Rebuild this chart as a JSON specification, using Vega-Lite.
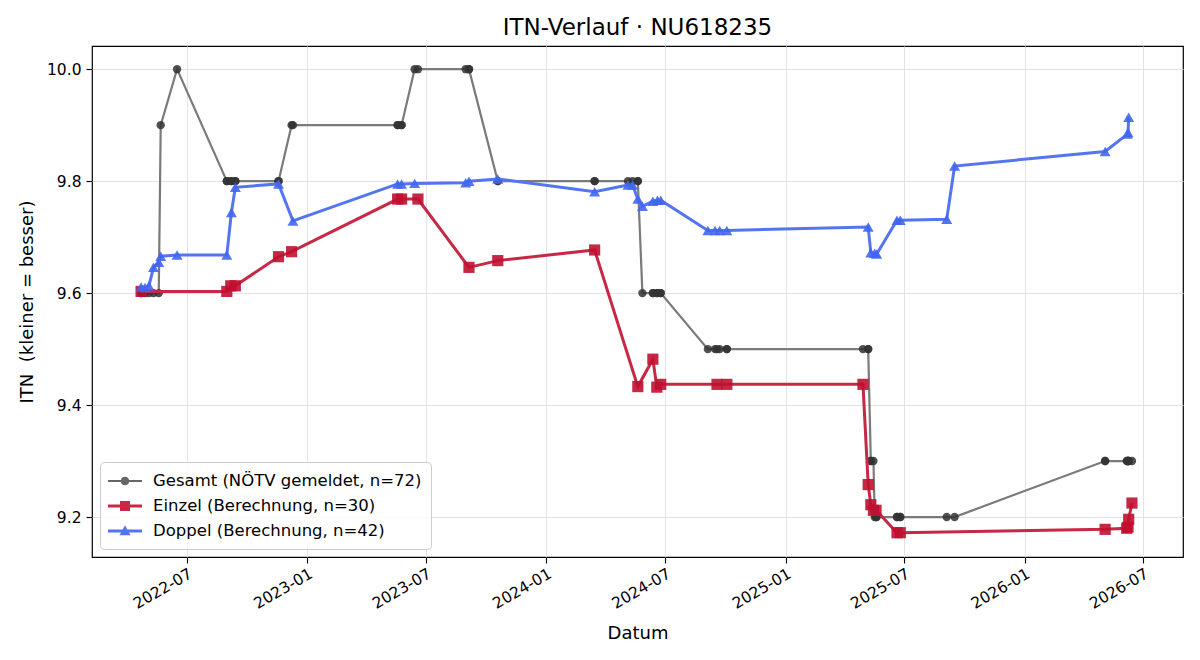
{
  "$schema": "https://vega.github.io/schema/vega-lite/v6.json",
  "width": 1091,
  "height": 511,
  "autosize": {"type": "none"},
  "padding": {"left": 92, "top": 46, "right": 17, "bottom": 103},
  "background": "white",
  "title": {"text": "ITN-Verlauf · NU618235", "font": "DejaVu Sans", "fontSize": 23, "fontWeight": "normal", "color": "black", "offset": 6},
  "config": {
    "view": {"stroke": "black", "strokeWidth": 1.2},
    "axis": {
      "labelFont": "DejaVu Sans", "labelFontSize": 15.5, "labelColor": "black",
      "titleFont": "DejaVu Sans", "titleFontSize": 18, "titleFontWeight": "normal", "titleColor": "black",
      "tickColor": "black", "tickSize": 6, "tickWidth": 1.1, "domain": false,
      "gridColor": "#e3e3e3", "gridWidth": 1
    }
  },
  "data": {
    "values": [
      {"s": "Gesamt (NÖTV gemeldet, n=72)", "t": "2022-04-22", "v": 9.6},
      {"s": "Gesamt (NÖTV gemeldet, n=72)", "t": "2022-04-22", "v": 9.6},
      {"s": "Gesamt (NÖTV gemeldet, n=72)", "t": "2022-04-28", "v": 9.6},
      {"s": "Gesamt (NÖTV gemeldet, n=72)", "t": "2022-05-04", "v": 9.6},
      {"s": "Gesamt (NÖTV gemeldet, n=72)", "t": "2022-05-11", "v": 9.6},
      {"s": "Gesamt (NÖTV gemeldet, n=72)", "t": "2022-05-19", "v": 9.6},
      {"s": "Gesamt (NÖTV gemeldet, n=72)", "t": "2022-05-22", "v": 9.9},
      {"s": "Gesamt (NÖTV gemeldet, n=72)", "t": "2022-06-16", "v": 10.0},
      {"s": "Gesamt (NÖTV gemeldet, n=72)", "t": "2022-08-31", "v": 9.8},
      {"s": "Gesamt (NÖTV gemeldet, n=72)", "t": "2022-08-31", "v": 9.8},
      {"s": "Gesamt (NÖTV gemeldet, n=72)", "t": "2022-09-06", "v": 9.8},
      {"s": "Gesamt (NÖTV gemeldet, n=72)", "t": "2022-09-07", "v": 9.8},
      {"s": "Gesamt (NÖTV gemeldet, n=72)", "t": "2022-09-13", "v": 9.8},
      {"s": "Gesamt (NÖTV gemeldet, n=72)", "t": "2022-09-13", "v": 9.8},
      {"s": "Gesamt (NÖTV gemeldet, n=72)", "t": "2022-11-18", "v": 9.8},
      {"s": "Gesamt (NÖTV gemeldet, n=72)", "t": "2022-11-18", "v": 9.8},
      {"s": "Gesamt (NÖTV gemeldet, n=72)", "t": "2022-12-08", "v": 9.9},
      {"s": "Gesamt (NÖTV gemeldet, n=72)", "t": "2022-12-10", "v": 9.9},
      {"s": "Gesamt (NÖTV gemeldet, n=72)", "t": "2023-05-19", "v": 9.9},
      {"s": "Gesamt (NÖTV gemeldet, n=72)", "t": "2023-05-19", "v": 9.9},
      {"s": "Gesamt (NÖTV gemeldet, n=72)", "t": "2023-05-25", "v": 9.9},
      {"s": "Gesamt (NÖTV gemeldet, n=72)", "t": "2023-05-25", "v": 9.9},
      {"s": "Gesamt (NÖTV gemeldet, n=72)", "t": "2023-06-14", "v": 10.0},
      {"s": "Gesamt (NÖTV gemeldet, n=72)", "t": "2023-06-19", "v": 10.0},
      {"s": "Gesamt (NÖTV gemeldet, n=72)", "t": "2023-08-31", "v": 10.0},
      {"s": "Gesamt (NÖTV gemeldet, n=72)", "t": "2023-09-05", "v": 10.0},
      {"s": "Gesamt (NÖTV gemeldet, n=72)", "t": "2023-09-05", "v": 10.0},
      {"s": "Gesamt (NÖTV gemeldet, n=72)", "t": "2023-10-19", "v": 9.8},
      {"s": "Gesamt (NÖTV gemeldet, n=72)", "t": "2023-10-19", "v": 9.8},
      {"s": "Gesamt (NÖTV gemeldet, n=72)", "t": "2024-03-15", "v": 9.8},
      {"s": "Gesamt (NÖTV gemeldet, n=72)", "t": "2024-03-15", "v": 9.8},
      {"s": "Gesamt (NÖTV gemeldet, n=72)", "t": "2024-05-05", "v": 9.8},
      {"s": "Gesamt (NÖTV gemeldet, n=72)", "t": "2024-05-12", "v": 9.8},
      {"s": "Gesamt (NÖTV gemeldet, n=72)", "t": "2024-05-20", "v": 9.8},
      {"s": "Gesamt (NÖTV gemeldet, n=72)", "t": "2024-05-20", "v": 9.8},
      {"s": "Gesamt (NÖTV gemeldet, n=72)", "t": "2024-05-27", "v": 9.6},
      {"s": "Gesamt (NÖTV gemeldet, n=72)", "t": "2024-06-12", "v": 9.6},
      {"s": "Gesamt (NÖTV gemeldet, n=72)", "t": "2024-06-12", "v": 9.6},
      {"s": "Gesamt (NÖTV gemeldet, n=72)", "t": "2024-06-18", "v": 9.6},
      {"s": "Gesamt (NÖTV gemeldet, n=72)", "t": "2024-06-19", "v": 9.6},
      {"s": "Gesamt (NÖTV gemeldet, n=72)", "t": "2024-06-24", "v": 9.6},
      {"s": "Gesamt (NÖTV gemeldet, n=72)", "t": "2024-06-24", "v": 9.6},
      {"s": "Gesamt (NÖTV gemeldet, n=72)", "t": "2024-09-04", "v": 9.5},
      {"s": "Gesamt (NÖTV gemeldet, n=72)", "t": "2024-09-15", "v": 9.5},
      {"s": "Gesamt (NÖTV gemeldet, n=72)", "t": "2024-09-18", "v": 9.5},
      {"s": "Gesamt (NÖTV gemeldet, n=72)", "t": "2024-09-22", "v": 9.5},
      {"s": "Gesamt (NÖTV gemeldet, n=72)", "t": "2024-10-03", "v": 9.5},
      {"s": "Gesamt (NÖTV gemeldet, n=72)", "t": "2024-10-03", "v": 9.5},
      {"s": "Gesamt (NÖTV gemeldet, n=72)", "t": "2025-04-29", "v": 9.5},
      {"s": "Gesamt (NÖTV gemeldet, n=72)", "t": "2025-05-07", "v": 9.5},
      {"s": "Gesamt (NÖTV gemeldet, n=72)", "t": "2025-05-07", "v": 9.5},
      {"s": "Gesamt (NÖTV gemeldet, n=72)", "t": "2025-05-11", "v": 9.3},
      {"s": "Gesamt (NÖTV gemeldet, n=72)", "t": "2025-05-11", "v": 9.3},
      {"s": "Gesamt (NÖTV gemeldet, n=72)", "t": "2025-05-15", "v": 9.3},
      {"s": "Gesamt (NÖTV gemeldet, n=72)", "t": "2025-05-17", "v": 9.2},
      {"s": "Gesamt (NÖTV gemeldet, n=72)", "t": "2025-05-19", "v": 9.2},
      {"s": "Gesamt (NÖTV gemeldet, n=72)", "t": "2025-05-20", "v": 9.2},
      {"s": "Gesamt (NÖTV gemeldet, n=72)", "t": "2025-06-20", "v": 9.2},
      {"s": "Gesamt (NÖTV gemeldet, n=72)", "t": "2025-06-20", "v": 9.2},
      {"s": "Gesamt (NÖTV gemeldet, n=72)", "t": "2025-06-25", "v": 9.2},
      {"s": "Gesamt (NÖTV gemeldet, n=72)", "t": "2025-06-25", "v": 9.2},
      {"s": "Gesamt (NÖTV gemeldet, n=72)", "t": "2025-09-04", "v": 9.2},
      {"s": "Gesamt (NÖTV gemeldet, n=72)", "t": "2025-09-16", "v": 9.2},
      {"s": "Gesamt (NÖTV gemeldet, n=72)", "t": "2026-05-04", "v": 9.3},
      {"s": "Gesamt (NÖTV gemeldet, n=72)", "t": "2026-05-04", "v": 9.3},
      {"s": "Gesamt (NÖTV gemeldet, n=72)", "t": "2026-06-06", "v": 9.3},
      {"s": "Gesamt (NÖTV gemeldet, n=72)", "t": "2026-06-07", "v": 9.3},
      {"s": "Gesamt (NÖTV gemeldet, n=72)", "t": "2026-06-08", "v": 9.3},
      {"s": "Gesamt (NÖTV gemeldet, n=72)", "t": "2026-06-08", "v": 9.3},
      {"s": "Gesamt (NÖTV gemeldet, n=72)", "t": "2026-06-09", "v": 9.3},
      {"s": "Gesamt (NÖTV gemeldet, n=72)", "t": "2026-06-09", "v": 9.3},
      {"s": "Gesamt (NÖTV gemeldet, n=72)", "t": "2026-06-14", "v": 9.3},

      {"s": "Einzel (Berechnung, n=30)", "t": "2022-04-22", "v": 9.603},
      {"s": "Einzel (Berechnung, n=30)", "t": "2022-08-31", "v": 9.603},
      {"s": "Einzel (Berechnung, n=30)", "t": "2022-09-06", "v": 9.613},
      {"s": "Einzel (Berechnung, n=30)", "t": "2022-09-13", "v": 9.613},
      {"s": "Einzel (Berechnung, n=30)", "t": "2022-11-18", "v": 9.665},
      {"s": "Einzel (Berechnung, n=30)", "t": "2022-12-08", "v": 9.674},
      {"s": "Einzel (Berechnung, n=30)", "t": "2023-05-19", "v": 9.768},
      {"s": "Einzel (Berechnung, n=30)", "t": "2023-05-25", "v": 9.768},
      {"s": "Einzel (Berechnung, n=30)", "t": "2023-06-19", "v": 9.768},
      {"s": "Einzel (Berechnung, n=30)", "t": "2023-09-05", "v": 9.646},
      {"s": "Einzel (Berechnung, n=30)", "t": "2023-10-19", "v": 9.658},
      {"s": "Einzel (Berechnung, n=30)", "t": "2024-03-15", "v": 9.677},
      {"s": "Einzel (Berechnung, n=30)", "t": "2024-05-20", "v": 9.433},
      {"s": "Einzel (Berechnung, n=30)", "t": "2024-06-12", "v": 9.482},
      {"s": "Einzel (Berechnung, n=30)", "t": "2024-06-18", "v": 9.432},
      {"s": "Einzel (Berechnung, n=30)", "t": "2024-06-24", "v": 9.437},
      {"s": "Einzel (Berechnung, n=30)", "t": "2024-09-18", "v": 9.437},
      {"s": "Einzel (Berechnung, n=30)", "t": "2024-10-03", "v": 9.437},
      {"s": "Einzel (Berechnung, n=30)", "t": "2025-04-29", "v": 9.437},
      {"s": "Einzel (Berechnung, n=30)", "t": "2025-05-07", "v": 9.258},
      {"s": "Einzel (Berechnung, n=30)", "t": "2025-05-11", "v": 9.222},
      {"s": "Einzel (Berechnung, n=30)", "t": "2025-05-15", "v": 9.212},
      {"s": "Einzel (Berechnung, n=30)", "t": "2025-05-19", "v": 9.212},
      {"s": "Einzel (Berechnung, n=30)", "t": "2025-06-20", "v": 9.172},
      {"s": "Einzel (Berechnung, n=30)", "t": "2025-06-25", "v": 9.172},
      {"s": "Einzel (Berechnung, n=30)", "t": "2026-05-04", "v": 9.178},
      {"s": "Einzel (Berechnung, n=30)", "t": "2026-06-06", "v": 9.180},
      {"s": "Einzel (Berechnung, n=30)", "t": "2026-06-08", "v": 9.182},
      {"s": "Einzel (Berechnung, n=30)", "t": "2026-06-09", "v": 9.196},
      {"s": "Einzel (Berechnung, n=30)", "t": "2026-06-14", "v": 9.225},

      {"s": "Doppel (Berechnung, n=42)", "t": "2022-04-22", "v": 9.611},
      {"s": "Doppel (Berechnung, n=42)", "t": "2022-04-28", "v": 9.610},
      {"s": "Doppel (Berechnung, n=42)", "t": "2022-05-04", "v": 9.613},
      {"s": "Doppel (Berechnung, n=42)", "t": "2022-05-11", "v": 9.646},
      {"s": "Doppel (Berechnung, n=42)", "t": "2022-05-19", "v": 9.655},
      {"s": "Doppel (Berechnung, n=42)", "t": "2022-05-22", "v": 9.666},
      {"s": "Doppel (Berechnung, n=42)", "t": "2022-06-16", "v": 9.668},
      {"s": "Doppel (Berechnung, n=42)", "t": "2022-08-31", "v": 9.668},
      {"s": "Doppel (Berechnung, n=42)", "t": "2022-09-07", "v": 9.744},
      {"s": "Doppel (Berechnung, n=42)", "t": "2022-09-13", "v": 9.789},
      {"s": "Doppel (Berechnung, n=42)", "t": "2022-11-18", "v": 9.795},
      {"s": "Doppel (Berechnung, n=42)", "t": "2022-12-10", "v": 9.729},
      {"s": "Doppel (Berechnung, n=42)", "t": "2023-05-19", "v": 9.795},
      {"s": "Doppel (Berechnung, n=42)", "t": "2023-05-25", "v": 9.795},
      {"s": "Doppel (Berechnung, n=42)", "t": "2023-06-14", "v": 9.796},
      {"s": "Doppel (Berechnung, n=42)", "t": "2023-08-31", "v": 9.797},
      {"s": "Doppel (Berechnung, n=42)", "t": "2023-09-05", "v": 9.800},
      {"s": "Doppel (Berechnung, n=42)", "t": "2023-10-19", "v": 9.804},
      {"s": "Doppel (Berechnung, n=42)", "t": "2024-03-15", "v": 9.781},
      {"s": "Doppel (Berechnung, n=42)", "t": "2024-05-05", "v": 9.793},
      {"s": "Doppel (Berechnung, n=42)", "t": "2024-05-12", "v": 9.793},
      {"s": "Doppel (Berechnung, n=42)", "t": "2024-05-20", "v": 9.768},
      {"s": "Doppel (Berechnung, n=42)", "t": "2024-05-27", "v": 9.755},
      {"s": "Doppel (Berechnung, n=42)", "t": "2024-06-12", "v": 9.764},
      {"s": "Doppel (Berechnung, n=42)", "t": "2024-06-19", "v": 9.766},
      {"s": "Doppel (Berechnung, n=42)", "t": "2024-06-24", "v": 9.766},
      {"s": "Doppel (Berechnung, n=42)", "t": "2024-09-04", "v": 9.712},
      {"s": "Doppel (Berechnung, n=42)", "t": "2024-09-15", "v": 9.712},
      {"s": "Doppel (Berechnung, n=42)", "t": "2024-09-22", "v": 9.712},
      {"s": "Doppel (Berechnung, n=42)", "t": "2024-10-03", "v": 9.712},
      {"s": "Doppel (Berechnung, n=42)", "t": "2025-05-07", "v": 9.718},
      {"s": "Doppel (Berechnung, n=42)", "t": "2025-05-11", "v": 9.672},
      {"s": "Doppel (Berechnung, n=42)", "t": "2025-05-17", "v": 9.671},
      {"s": "Doppel (Berechnung, n=42)", "t": "2025-05-20", "v": 9.670},
      {"s": "Doppel (Berechnung, n=42)", "t": "2025-06-20", "v": 9.730},
      {"s": "Doppel (Berechnung, n=42)", "t": "2025-06-25", "v": 9.730},
      {"s": "Doppel (Berechnung, n=42)", "t": "2025-09-04", "v": 9.732},
      {"s": "Doppel (Berechnung, n=42)", "t": "2025-09-16", "v": 9.827},
      {"s": "Doppel (Berechnung, n=42)", "t": "2026-05-04", "v": 9.853},
      {"s": "Doppel (Berechnung, n=42)", "t": "2026-06-07", "v": 9.884},
      {"s": "Doppel (Berechnung, n=42)", "t": "2026-06-08", "v": 9.887},
      {"s": "Doppel (Berechnung, n=42)", "t": "2026-06-09", "v": 9.914}
    ]
  },
  "encoding": {
    "x": {
      "field": "t", "type": "temporal", "title": "Datum",
      "scale": {"type": "utc", "domain": [{"year": 2022, "month": 2, "date": 6, "utc": true}, {"year": 2026, "month": 8, "date": 31, "utc": true}]},
      "axis": {
        "values": [
          {"year": 2022, "month": 7, "date": 1, "utc": true},
          {"year": 2023, "month": 1, "date": 1, "utc": true},
          {"year": 2023, "month": 7, "date": 1, "utc": true},
          {"year": 2024, "month": 1, "date": 1, "utc": true},
          {"year": 2024, "month": 7, "date": 1, "utc": true},
          {"year": 2025, "month": 1, "date": 1, "utc": true},
          {"year": 2025, "month": 7, "date": 1, "utc": true},
          {"year": 2026, "month": 1, "date": 1, "utc": true},
          {"year": 2026, "month": 7, "date": 1, "utc": true}
        ],
        "labelExpr": "utcFormat(datum.value, '%Y-%m')",
        "labelAngle": -30, "labelAlign": "right", "labelBaseline": "top", "labelPadding": 3,
        "titlePadding": 13
      }
    },
    "y": {
      "field": "v", "type": "quantitative", "title": "ITN\u00a0 (kleiner = besser)",
      "scale": {"domain": [9.1286, 10.0414], "nice": false, "zero": false},
      "axis": {"values": [9.2, 9.4, 9.6, 9.8, 10.0], "format": ".1f", "labelPadding": 5, "titlePadding": 10}
    }
  },
  "layer": [
    {
      "transform": [{"filter": "datum.s === 'Gesamt (NÖTV gemeldet, n=72)'"}],
      "mark": {"type": "line", "color": "#7a7a7a", "strokeWidth": 2.2},
      "encoding": {}
    },
    {
      "transform": [{"filter": "datum.s === 'Gesamt (NÖTV gemeldet, n=72)'"}],
      "mark": {"type": "point", "filled": true, "shape": "circle", "color": "#333333", "size": 70, "opacity": 0.85},
      "encoding": {}
    },
    {
      "transform": [{"filter": "datum.s === 'Einzel (Berechnung, n=30)'"}],
      "mark": {"type": "line", "color": "#c62845", "strokeWidth": 3},
      "encoding": {}
    },
    {
      "transform": [{"filter": "datum.s === 'Einzel (Berechnung, n=30)'"}],
      "mark": {"type": "point", "filled": true, "shape": "square", "color": "#c01030", "size": 125, "opacity": 0.9},
      "encoding": {}
    },
    {
      "transform": [{"filter": "datum.s === 'Doppel (Berechnung, n=42)'"}],
      "mark": {"type": "line", "color": "#5475f0", "strokeWidth": 3},
      "encoding": {}
    },
    {
      "transform": [{"filter": "datum.s === 'Doppel (Berechnung, n=42)'"}],
      "mark": {"type": "point", "filled": true, "shape": "triangle-up", "color": "#4166ee", "size": 120, "opacity": 0.9},
      "encoding": {}
    },
    {
      "transform": [{"filter": "false"}],
      "mark": {"type": "point", "filled": true, "size": 400, "opacity": 1},
      "encoding": {
        "color": {"field": "s", "type": "nominal",
          "scale": {"domain": ["Gesamt (NÖTV gemeldet, n=72)", "Einzel (Berechnung, n=30)", "Doppel (Berechnung, n=42)"], "range": ["#666666", "#c62845", "#5475f0"]},
          "legend": {"title": null, "orient": "bottom-left", "offset": 8, "padding": 9,
            "fillColor": "rgba(255,255,255,0.8)", "strokeColor": "#cccccc", "cornerRadius": 4,
            "labelFont": "DejaVu Sans", "labelFontSize": 16.5, "labelColor": "black", "labelLimit": 500,
            "symbolSize": 400, "labelOffset": 24, "rowPadding": 6, "symbolStrokeWidth": 0, "symbolOpacity": 1}
        },
        "shape": {"field": "s", "type": "nominal",
          "scale": {"domain": ["Gesamt (NÖTV gemeldet, n=72)", "Einzel (Berechnung, n=30)", "Doppel (Berechnung, n=42)"],
            "range": [
              "M-1.1,-0.11H2.3V0.11H-1.1Z M1.03,0A0.43,0.43 0 1,1 0.17,0A0.43,0.43 0 1,1 1.03,0Z",
              "M-1.1,-0.15H2.3V0.15H-1.1Z M0.1,-0.5H1.1V0.5H0.1Z",
              "M-1.1,-0.15H2.3V0.15H-1.1Z M0.6,-0.58L1.15,0.42H0.05Z"
            ]},
          "legend": {"title": null, "orient": "bottom-left", "offset": 8, "padding": 9,
            "fillColor": "rgba(255,255,255,0.8)", "strokeColor": "#cccccc", "cornerRadius": 4,
            "labelFont": "DejaVu Sans", "labelFontSize": 16.5, "labelColor": "black", "labelLimit": 500,
            "symbolSize": 400, "labelOffset": 24, "rowPadding": 6, "symbolStrokeWidth": 0, "symbolOpacity": 1}
        }
      }
    }
  ]
}
